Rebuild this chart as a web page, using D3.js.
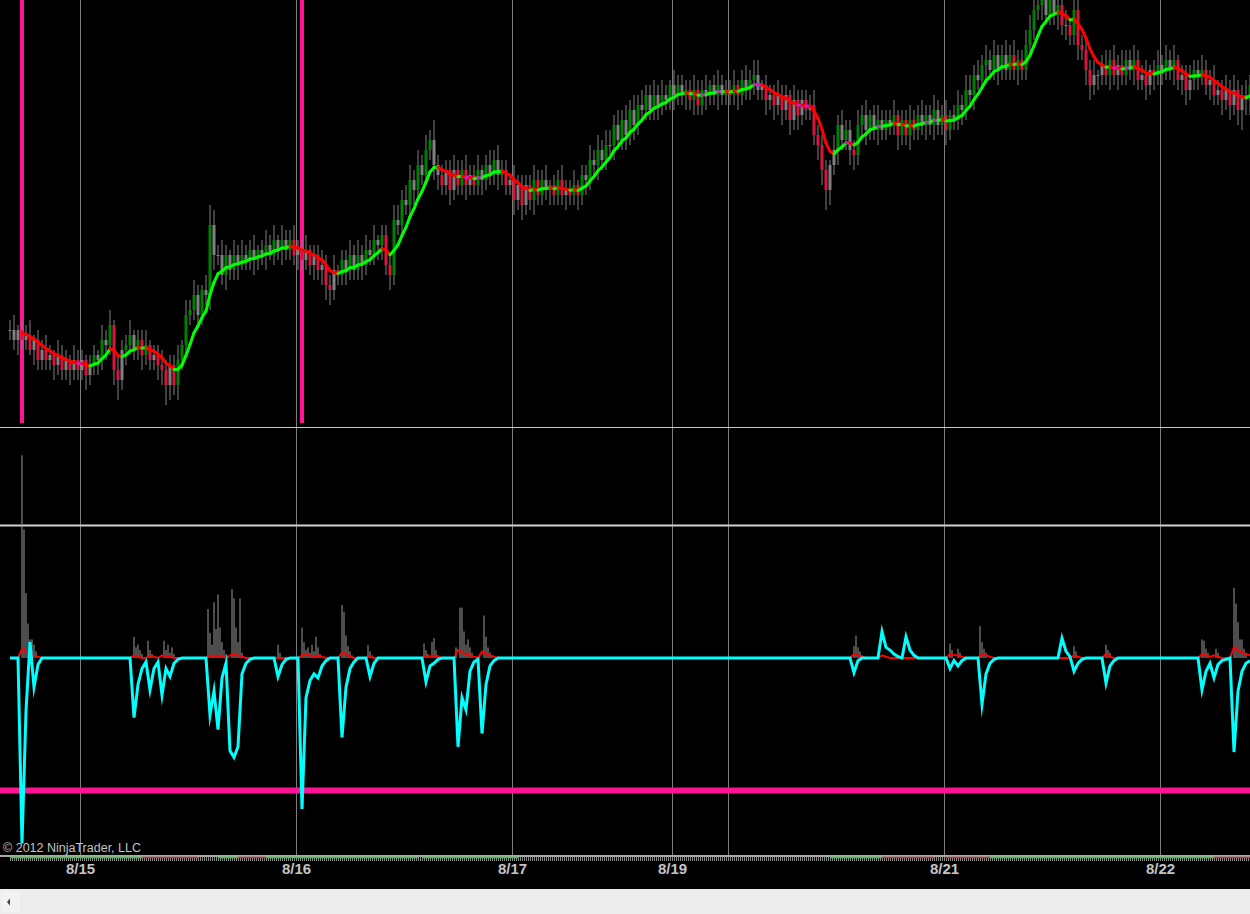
<!DOCTYPE html>
<html lang="en">
<head>
<meta charset="UTF-8" />
<title>NinjaTrader chart</title>
<script src="https://d3js.org/d3.v7.min.js"></script>
<style>
  html, body { margin: 0; padding: 0; background: #000; overflow: hidden; }
  svg { display: block; }
  .date text { font: bold 15px "Liberation Sans", Arial, sans-serif; fill: #c4c4c4; }
</style>
</head>
<body>
<svg id="chart" width="1250" height="914"></svg>
<script>
// closes of each bar (ES points); open = previous close
const closes = [
  1403.5,1403,1403.5,1403,1403.25,1402.5,1403,1402,1402.5,1402,
  1402.25,1401.75,1402.25,1401.5,1402,1401.5,1402,1401.5,1402,1401.25,
  1401.75,1402.25,1402,1403,1402.75,1403.75,1401.5,1401,1402.5,1402.75,
  1403.25,1402.5,1403,1402.25,1402.75,1402,1402.25,1401.75,1401.5,1400.75,
  1401.75,1400.75,1402,1402.75,1404.25,1404.5,1405.25,1404.25,1405.5,1405.25,
  1408.75,1407.25,1407.25,1406.25,1407.25,1406.5,1407.25,1406.75,1407.25,1407,
  1407.5,1407,1407.5,1407.25,1407.75,1407.25,1408,1407.5,1408,1407.5,
  1408,1407.25,1407.5,1407,1407.5,1406.75,1407.25,1406.5,1406.75,1405.75,
  1405.5,1406.5,1406.25,1407,1406.5,1407.25,1406.5,1407.25,1406.75,1407.5,
  1407.25,1408,1407.75,1408.25,1406.75,1406.25,1409,1408.75,1410,1409.75,
  1411,1410.5,1411.75,1411.25,1412.5,1413,1411.75,1411.25,1410.75,1411.5,
  1410.5,1411.5,1410.75,1411.5,1410.75,1411.25,1410.75,1411.5,1411,1411.75,
  1411.25,1412,1411.25,1411.5,1410.75,1411,1410,1410.75,1409.75,1410.75,
  1410,1411,1410.25,1411,1410.5,1410.75,1410.25,1411,1410.25,1410.5,
  1410.25,1410.75,1410.25,1411.25,1411,1412,1411.75,1412.5,1412,1412.75,
  1412.75,1413.75,1413,1414,1413.25,1414.5,1413.75,1414.75,1414.5,1415.25,
  1414.5,1415.25,1414.75,1415.25,1415,1415.75,1415.25,1415.75,1415.25,1415.5,
  1415,1415.5,1414.75,1415.5,1415.25,1415.75,1415.25,1415.75,1415.25,1415.5,
  1415.25,1415.75,1415.25,1416,1415.5,1416,1416.25,1415.5,1415.75,1415,
  1415.25,1414.75,1415.25,1414.5,1415.25,1414,1415,1414.25,1415,1414.5,
  1414.75,1413.25,1412.75,1411.5,1410.5,1411.75,1412.5,1413.75,1413,1413.5,
  1412.5,1412.25,1413.75,1414.25,1413.5,1414.25,1413.5,1414,1413.5,1414,
  1413.75,1414.25,1413.25,1414,1413.25,1414,1413.5,1414.25,1413.75,1414.25,
  1413.75,1414.5,1413.75,1414.25,1413.5,1414.25,1414,1414.75,1414.5,1415.5,
  1415.25,1416.25,1416,1416.75,1417,1416.5,1417.25,1416.5,1417.25,1416.5,
  1417.25,1416.5,1417,1416.5,1417.75,1418.5,1419.5,1419.75,1420,1419.25,
  1420,1419.25,1419.75,1418.75,1418.75,1418.25,1419.5,1417.75,1417.5,1416.5,
  1415.75,1416.25,1416.25,1416.75,1416.25,1417,1416.25,1416.75,1416.25,1417,
  1416.5,1417,1416,1416.25,1415.75,1416.5,1416.25,1416.75,1416.5,1417,
  1416.5,1417,1416,1416.25,1415.5,1416,1416.5,1416.25,1416.5,1415.75,
  1416,1415.25,1415.5,1415,1415.5,1414.75,1415.5,1414.5,1415.25,1415,1415.75
];

// wick lengths in ticks (0.25) above / below the body, one digit per bar
const wickUp = ("2312231223 2132213221 2213231322 3122312232 2231323213 4323213232 " +
  "2312323132 2322312232 2312232323 2312223323 3232324222 2322322312 3232213222 " +
  "2322312232 2312232323 3232323232 2323213222 2322312322 2312323312 2232213222 " +
  "2322213232 2232312322 2312232232 2322312323 3232323223 2322332312 2322312322 " +
  "2312323232 2322312323 2312232232 23223232232").replace(/ /g, "").split("").map(Number);
const wickDn = ("2232213222 2322232223 2232323423 2223222334 3232222322 3322322312 " +
  "2322312232 2232223233 3222322232 2233232222 2322223322 3222322232 2232223232 " +
  "2322232223 2232322322 2322323222 2232223223 2322322322 2232223223 2323232322 " +
  "2233432322 3322322322 2232232223 2322322232 2322322322 2232222232 2232322323 " +
  "3232232322 2322323232 2323322322 32232323433").replace(/ /g, "").split("").map(Number);

// session breaks (between bars) and their labels
const dayBreaks = [17.5, 71.5, 125.5, 165.5, 179.5, 233.5, 287.5];
const dayLabels = ["8/15", "8/16", "8/17", "8/19", "", "8/21", "8/22"];

// bars marked with a vertical line in the price panel
const markerBars = [3, 73];

// oscillator (cyan), non-zero bars only: [bar, value]
const oscPoints = [
  [3,-140],[4,-40],[5,12],[6,-22],[7,-5],
  [31,-45],[32,-20],[33,-8],[34,-3],[35,-24],[36,-8],[37,-3],[38,-28],[39,-8],[40,-14],[41,-4],[42,-1],
  [50,-43],[51,-25],[52,-54],[53,-15],[54,-4],[55,-70],[56,-75],[57,-67],[58,-12],[59,-4],[60,-1],
  [67,-14],[68,-5],[69,-1],
  [73,-114],[74,-30],[75,-17],[76,-12],[77,-15],[78,-6],[79,-2],
  [83,-60],[84,-22],[85,-8],[86,-3],
  [90,-14],[91,-4],
  [104,-18],[105,-6],[106,-4],[107,-1],
  [112,-67],[113,-30],[114,-39],[115,-10],[116,-3],[117,-1],[118,-57],[119,-20],[120,-6],[121,-2],
  [211,-11],[212,-2],
  [218,20],[219,8],[220,6],[221,3],[222,1],
  [224,16],[225,6],[226,2],
  [235,-8],[236,-2],[237,-6],[238,-2],
  [243,-35],[244,-12],[245,-4],[246,-1],
  [263,15],[264,5],[265,1],[266,-10],[267,-4],[268,-1],
  [274,-19],[275,-6],[276,-2],
  [298,-24],[299,-10],[300,-4],[301,-15],[302,-5],[303,-2],[304,-1],
  [306,-71],[307,-25],[308,-10],[309,-4],[310,-2]
];

// second line (red), non-zero bars only
const redPoints = [
  [3,7],[4,5],[5,3],[6,2],[7,1],
  [31,2],[32,1],[35,2],[36,1],[38,2],[39,1],[40,1],
  [50,2],[51,1],[52,2],[53,1],[55,2],[56,3],[57,2],[58,1],
  [73,2],[74,3],[75,2],[76,1],[77,2],[78,1],
  [83,4],[84,3],[85,1],[90,1],
  [104,2],[105,1],[106,2],[107,1],
  [112,6],[113,4],[114,3],[115,2],[116,1],[118,5],[119,3],[120,2],[121,1],
  [211,3],[212,2],[213,1],[218,2],[219,1],
  [235,3],[236,2],[237,2],[238,1],[243,3],[244,2],[245,1],
  [266,2],[267,1],[274,3],[275,1],
  [298,3],[299,2],[300,1],[301,2],[302,1],[306,8],[307,6],[308,4],[309,3],[310,2]
];

// grey histogram spikes: [bar, value]
const spikes = [
  [3,153],[3.5,97],[4,49],[4.5,26],[5,14],[5.5,14],[6,10],[6.5,5],
  [31,16],[31.5,8],[32,10],[32.5,6],[33,3],[34.5,13],[35,6],[35.5,3],
  [38.5,13],[39,6],[39.5,10],[40,4],[40.5,8],[41,3],
  [49.5,37],[50,19],[50.5,10],[51,42],[51.5,22],[52,48],[52.5,23],[53,12],[53.5,6],[54,3],
  [55.5,52],[56,45],[56.5,23],[57,12],[57.5,45],[58,4],
  [67,10],[67.5,4],
  [73,23],[73.5,12],[74,6],[74.5,8],[75,4],[75.5,10],[76,5],[76.5,16],[77,8],[77.5,3],
  [83,40],[83.5,35],[84,17],[84.5,9],[85,5],[85.5,2],
  [89.5,10],[90,5],[90.5,2],
  [103.5,11],[104,6],[104.5,3],[105.5,12],[106,15],[106.5,6],[107,2],
  [111.5,8],[112.5,38],[113,38],[113.5,20],[114,10],[114.5,14],[115,8],[115.5,4],
  [118.5,32],[119,16],[119.5,8],[120,4],[120.5,2],
  [211,9],[211.5,17],[212,8],[212.5,5],[213,2],
  [235,11],[235.5,6],[237,7],[237.5,4],
  [242.5,24],[243,12],[243.5,7],[244,4],
  [266,9],[266.5,5],
  [274,10],[274.5,6],[275,4],
  [298,14],[298.5,13],[299,7],[299.5,4],[301.5,7],[302,4],
  [306,53],[306.5,41],[307,27],[307.5,14],[308,14],[308.5,7],[309,4]
];

// oscillator levels
const levels = [100, -100];

// bottom strip states: [fromBar, toBar, state]
const stripStates = [
  [0,33,"up"],[33,47,"dn"],[52,57,"up"],[57,64,"dn"],[64,102,"up"],[103,127,"up"],
  [205,218,"up"],[218,231,"dn"],[234,245,"dn"],[245,301,"up"],[301,310,"dn"]
];

const W = 1250, H = 914;
const N = closes.length;
const svg = d3.select("#chart");

svg.append("rect").attr("width", W).attr("height", H).attr("fill", "#000");

const x = d3.scaleLinear().domain([0, N - 1]).range([10, 1250]);
const yP = d3.scaleLinear().domain([1398.65, 1420]).range([427, 0]);
const yO = d3.scaleLinear().domain([-148.7, 173.6]).range([855, 428]);

// vertical grid through both panels
svg.append("g")
  .call(d3.axisBottom(x).tickValues(dayBreaks).tickSize(855).tickFormat(""))
  .call(g => g.select(".domain").remove())
  .call(g => g.selectAll("line").attr("stroke", "#7c7c7c"));

// panel separator
svg.append("line").attr("x1", 0).attr("x2", W).attr("y1", 427.5).attr("y2", 427.5)
  .attr("stroke", "#c8c8c8");

// ---- price panel ----
svg.append("clipPath").attr("id", "clipTop")
  .append("rect").attr("x", 0).attr("y", 0).attr("width", W).attr("height", 427);
const pricePanel = svg.append("g").attr("clip-path", "url(#clipTop)");

pricePanel.selectAll(".marker").data(markerBars).enter().append("line")
  .attr("x1", d => x(d)).attr("x2", d => x(d))
  .attr("y1", 0).attr("y2", 423)
  .attr("stroke", "#ff1493").attr("stroke-width", 4);

const bars = closes.map((c, i) => {
  const o = i ? closes[i - 1] : c;
  return {
    i, o, c,
    h: Math.max(o, c) + (wickUp[i] ?? 1) * 0.25,
    l: Math.min(o, c) - (wickDn[i] ?? 1) * 0.25
  };
});

// smoothed moving average (EMA 5 then EMA 3) and its direction
const ema = (arr, n) => {
  const a = 2 / (n + 1), out = [];
  arr.forEach((v, i) => out.push(i ? out[i - 1] + (v - out[i - 1]) * a : v));
  return out;
};
const ma = ema(ema(closes, 5), 3);
const trend = ma.map((m, i) => {
  if (i < 3) return 0;
  const d = m - ma[i - 1];
  return d > 0.01 ? 1 : d < -0.01 ? -1 : 0;
});

pricePanel.selectAll(".wick").data(bars).enter().append("line")
  .attr("x1", d => x(d.i)).attr("x2", d => x(d.i))
  .attr("y1", d => yP(d.h)).attr("y2", d => yP(d.l))
  .attr("stroke", "#808080").attr("stroke-width", 1);

pricePanel.selectAll(".body").data(bars).enter().append("rect")
  .attr("x", d => x(d.i) - 1.5).attr("width", 3)
  .attr("y", d => yP(Math.max(d.o, d.c)))
  .attr("height", d => Math.max(1, yP(Math.min(d.o, d.c)) - yP(Math.max(d.o, d.c))))
  .attr("fill", d => {
    if (d.c > d.o && trend[d.i] > 0) return "#008000";
    if (d.c < d.o && trend[d.i] < 0) return "#dc143c";
    return "#808080";
  });

const maColor = t => t > 0 ? "#00ff00" : t < 0 ? "#ff0000" : "#c81ec8";
const segs = d3.range(4, N).map(i => ({ i, t: trend[i] }));
pricePanel.selectAll(".ma").data(segs).enter().append("line")
  .attr("x1", d => x(d.i - 1)).attr("x2", d => x(d.i))
  .attr("y1", d => yP(ma[d.i - 1])).attr("y2", d => yP(ma[d.i]))
  .attr("stroke", d => maColor(d.t)).attr("stroke-width", 3)
  .attr("stroke-linecap", "round");

// ---- oscillator panel ----
svg.append("clipPath").attr("id", "clipBot")
  .append("rect").attr("x", 0).attr("y", 428).attr("width", W).attr("height", 427);
const oscPanel = svg.append("g").attr("clip-path", "url(#clipBot)");

oscPanel.selectAll(".level").data(levels).enter().append("line")
  .attr("x1", 0).attr("x2", W)
  .attr("y1", d => yO(d)).attr("y2", d => yO(d))
  .attr("stroke", d => d > 0 ? "#d2d2d2" : "#ff1493")
  .attr("stroke-width", d => d > 0 ? 2 : 6);

oscPanel.selectAll(".spike").data(spikes).enter().append("line")
  .attr("x1", d => x(d[0])).attr("x2", d => x(d[0]))
  .attr("y1", yO(0)).attr("y2", d => yO(d[1]))
  .attr("stroke", "#9a9a9a").attr("stroke-width", 1);

const redVals = new Array(N).fill(0);
redPoints.forEach(([b, v]) => { redVals[b] = v; });
const oscVals = new Array(N).fill(0);
oscPoints.forEach(([b, v]) => { oscVals[b] = v; });

const line = d3.line().x((d, i) => x(i)).y(d => yO(d));

oscPanel.append("path").datum(redVals).attr("d", line)
  .attr("fill", "none").attr("stroke", "#ff0000").attr("stroke-width", 2);

oscPanel.append("path").datum(oscVals).attr("d", line)
  .attr("fill", "none").attr("stroke", "#00ffff").attr("stroke-width", 3)
  .attr("stroke-linejoin", "miter").attr("stroke-miterlimit", 10);

// copyright
svg.append("text").attr("x", 3).attr("y", 852)
  .attr("font-family", "'Liberation Sans', Arial, sans-serif").attr("font-size", 12.5)
  .attr("fill", "#c4c4c4").text("© 2012 NinjaTrader, LLC");

// ---- small bottom strip ----
svg.append("rect").attr("x", 0).attr("y", 855).attr("width", W).attr("height", 2)
  .attr("fill", "#a8a8a8");
svg.append("g").selectAll("line").data(d3.range(0, N - 0.5, 0.5)).enter().append("line")
  .attr("x1", d => x(d) + 0.5).attr("x2", d => x(d) + 0.5)
  .attr("y1", 857).attr("y2", 861)
  .attr("stroke", "#8c8c8c").attr("stroke-width", 1);
svg.append("g").selectAll("line").data(stripStates).enter().append("line")
  .attr("x1", d => x(d[0])).attr("x2", d => x(d[1]))
  .attr("y1", 857.5).attr("y2", 857.5)
  .attr("stroke", d => d[2] === "up" ? "#1ee01e" : "#c83232").attr("stroke-width", 1.5);

// date labels
svg.append("g").attr("class", "date").attr("transform", "translate(0,855)")
  .call(d3.axisBottom(x).tickValues(dayBreaks).tickSize(0).tickPadding(8)
    .tickFormat((d, i) => dayLabels[i]))
  .call(g => g.select(".domain").remove());

// scrollbar
svg.append("rect").attr("x", 0).attr("y", 889).attr("width", W).attr("height", 25)
  .attr("fill", "#ececec");
svg.append("rect").attr("x", 1).attr("y", 891).attr("width", 19).attr("height", 21)
  .attr("fill", "#f2f2f2");
svg.append("path").attr("d", "M7,902 L10,898.5 L10,905.5 Z").attr("fill", "#404040");
</script>
</body>
</html>
